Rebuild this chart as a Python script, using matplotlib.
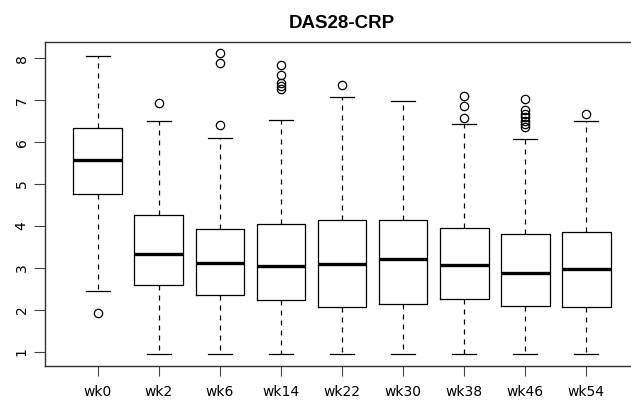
import matplotlib
matplotlib.use('Agg')
import matplotlib.pyplot as plt

# ========== Data ==========
weeks = ['wk0', 'wk2', 'wk6', 'wk14', 'wk22', 'wk30', 'wk38', 'wk46', 'wk54']
whislo = [2.44, 0.95, 0.95, 0.95, 0.95, 0.95, 0.95, 0.95, 0.95]
q1 = [4.76, 2.58, 2.35, 2.23, 2.07, 2.14, 2.26, 2.10, 2.07]
med = [5.57, 3.32, 3.12, 3.05, 3.10, 3.20, 3.08, 2.88, 2.97]
q3 = [6.34, 4.25, 3.93, 4.05, 4.15, 4.15, 3.95, 3.81, 3.85]
whishi = [8.06, 6.50, 6.11, 6.53, 7.08, 6.98, 6.43, 6.08, 6.50]
outliers = [
    [1.92],
    [6.93],
    [6.42, 7.90, 8.12],
    [7.26, 7.33, 7.42, 7.60, 7.84],
    [7.36],
    [],
    [6.57, 6.87, 7.11],
    [6.37, 6.43, 6.51, 6.59, 6.67, 6.77, 7.02],
    [6.68],
]

stats = []
for i, wk in enumerate(weeks):
    stats.append(dict(label=wk, whislo=whislo[i], q1=q1[i], med=med[i],
                      q3=q3[i], whishi=whishi[i], fliers=outliers[i]))

# ========== Plotting ==========
fig = plt.figure(figsize=(6.31, 4.00), dpi=100)
ax = fig.add_axes([0.0719, 0.085, 0.9403, 0.8108])

lw = 0.9
ax.bxp(stats, positions=range(1, len(weeks) + 1), widths=0.8, capwidths=0.4,
       boxprops=dict(color='black', linewidth=lw),
       medianprops=dict(color='black', linewidth=2.4, solid_capstyle='butt'),
       whiskerprops=dict(color='black', linewidth=lw, linestyle=(0, (4, 4))),
       capprops=dict(color='black', linewidth=lw),
       flierprops=dict(marker='o', markersize=6, markerfacecolor='none',
                       markeredgecolor='black', markeredgewidth=0.9))

ax.set_xlim(0.14, 9.86)
ax.set_ylim(0.659, 8.397)
ax.set_yticks(range(1, 9))
ax.set_xticks(range(1, len(weeks) + 1))
ax.set_xticklabels(weeks)

for s in ax.spines.values():
    s.set_color('#333333')
    s.set_linewidth(1.0)

ax.tick_params(axis='y', length=8, width=0.8, color='#444444', pad=4,
               labelsize=10, labelrotation=90)
ax.tick_params(axis='x', length=7, width=0.8, color='#444444', pad=7,
               labelsize=10)
for t in ax.get_yticklabels():
    t.set_verticalalignment('center')
    t.set_family('DejaVu Sans')
for t in ax.get_xticklabels():
    t.set_family('DejaVu Sans')

ax.set_title('DAS28-CRP', fontsize=13.5, fontweight='bold',
             family='Liberation Sans', pad=10)

fig.savefig('out.png', dpi=100)
